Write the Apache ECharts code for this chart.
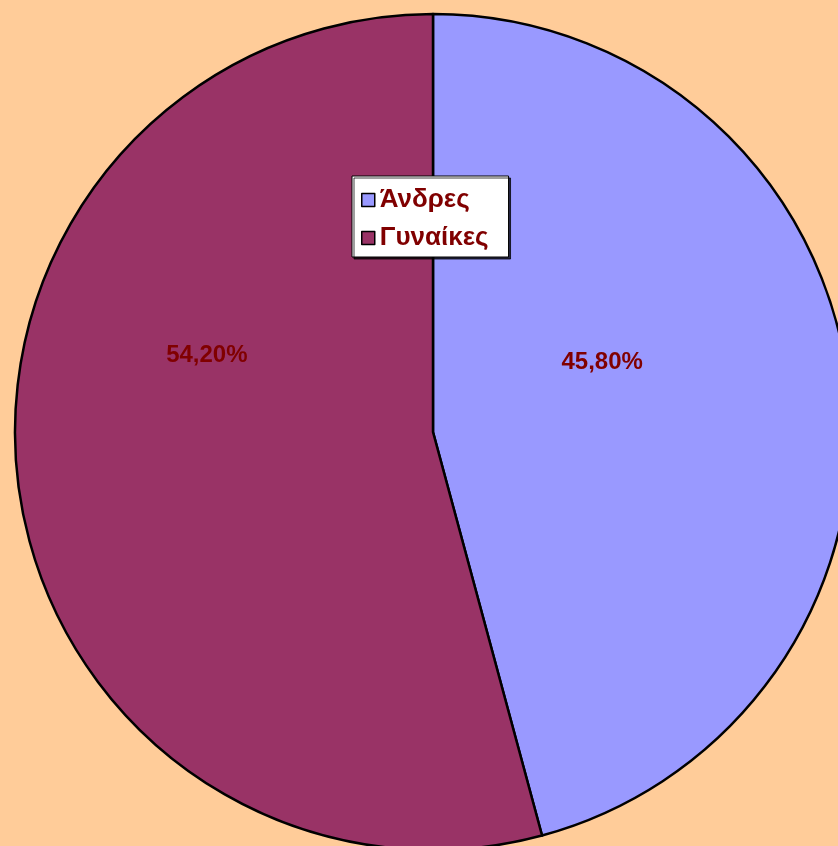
<!DOCTYPE html>
<html>
<head>
<meta charset="utf-8">
<script src="https://cdn.jsdelivr.net/npm/echarts@6/dist/echarts.min.js"></script>
<style>
  html, body { margin: 0; padding: 0; background: #FFCC99; }
  #main { width: 838px; height: 846px; }
</style>
</head>
<body>
<div id="main"></div>
<script>
// data
const categories = ['Άνδρες', 'Γυναίκες'];
const shares = [45.8, 54.2];
const colors = ['#9999FF', '#993366'];

const chart = echarts.init(document.getElementById('main'), null, { renderer: 'canvas' });

// labels sit off the default "inside" spot, nudge them like the original
const nudge = [[-41, -42], [-16, -105]];

const option = {
  backgroundColor: '#FFCC99',
  animation: false,
  legend: {
    orient: 'vertical',
    left: 352,
    top: 176,
    padding: [11, 20, 6, 9],
    itemGap: 12,
    itemWidth: 13,
    itemHeight: 13,
    icon: 'rect',
    backgroundColor: '#ffffff',
    borderColor: '#000000',
    borderWidth: 1,
    borderRadius: 0,
    shadowColor: 'rgba(0,0,0,0.75)',
    shadowOffsetX: 2,
    shadowOffsetY: 2,
    shadowBlur: 0,
    itemStyle: { borderColor: '#000', borderWidth: 1.5 },
    textStyle: {
      color: '#800000',
      fontFamily: 'Liberation Sans, Arial, sans-serif',
      fontWeight: 'bold',
      fontSize: 26,
      lineHeight: 26
    },
    data: categories
  },
  series: [{
    type: 'pie',
    center: [433, 432],
    radius: 418,
    startAngle: 90,
    clockwise: true,
    silent: true,
    itemStyle: { borderColor: '#000', borderWidth: 2.5 },
    label: {
      show: true,
      position: 'inside',
      color: '#800000',
      fontFamily: 'Liberation Sans, Arial, sans-serif',
      fontWeight: 'bold',
      fontSize: 24,
      formatter: p => p.value.toFixed(2).replace('.', ',') + '%'
    },
    labelLine: { show: false },
    labelLayout: params => ({ dx: nudge[params.dataIndex][0], dy: nudge[params.dataIndex][1] }),
    data: categories.map((name, i) => ({
      name: name,
      value: shares[i],
      itemStyle: { color: colors[i] }
    }))
  }]
};

chart.setOption(option);
</script>
</body>
</html>
